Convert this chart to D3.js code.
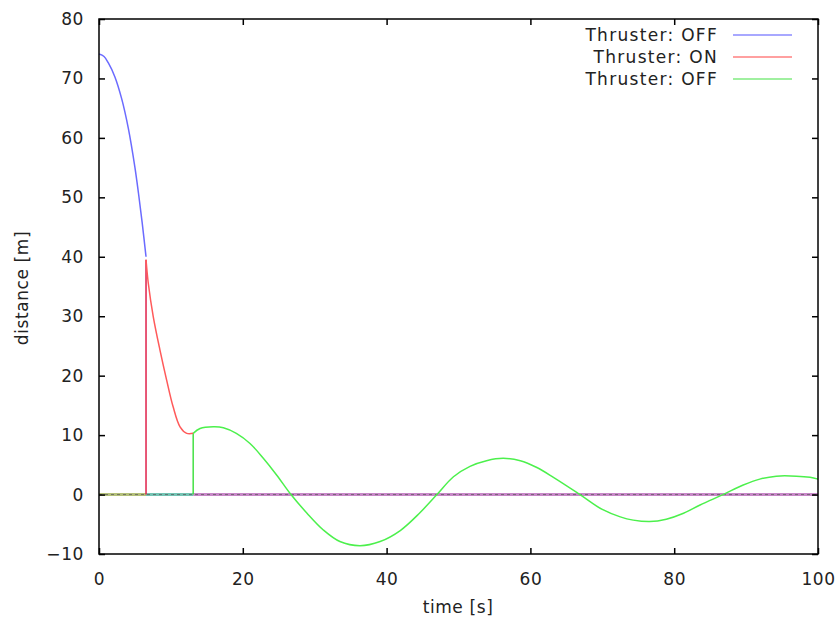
<!DOCTYPE html>
<html><head><meta charset="utf-8">
<script src="https://cdn.jsdelivr.net/npm/d3@7"></script>
<style>body{margin:0;background:#fff}svg{display:block}text{font-family:"DejaVu Sans",sans-serif}</style>
</head><body><svg id="c" width="837" height="621"></svg>
<script>
// ---- data ----
const xTicks = [0, 20, 40, 60, 80, 100];
const yTicks = [-10, 0, 10, 20, 30, 40, 50, 60, 70, 80];
const legendLabels = ["Thruster: OFF", "Thruster: ON", "Thruster: OFF"];
const seriesColors = ["#6b6bff", "#ff5a5a", "#4cf04c"];
const legendColors = ["#a8a8ff", "#ffa0a0", "#a0f0a0"];

const offT1 = [0, 0.7, 1.3, 2.2, 3.15, 4.08, 5.0, 5.5, 6.0, 6.54];
const offD1 = [74.1, 73.7, 72.6, 70.3, 66.6, 61.6, 55.0, 50.6, 45.8, 40.0];

const onT = [6.54, 6.86, 7.55, 8.48, 9.4, 10.3, 11.27, 12.2, 13.1];
const onD = [39.5, 35.5, 29.9, 24.3, 19.3, 14.8, 11.4, 10.3, 10.3];

const offT2 = [13.1, 14.05, 15.9, 17.3, 19.1, 21.0, 22.85, 24.7, 26.7, 28.9, 31.2, 33.5, 36.3, 39.1, 41.9, 44.6, 47.0, 49.3, 51.6, 53.9, 56.2, 58.6, 60.9, 63.2, 66.9, 70.0, 72.5, 74.3, 76.6, 78.9, 81.3, 83.6, 86.8, 89.6, 91.9, 94.2, 97.0, 98.9, 100];
const offD2 = [10.3, 11.1, 11.4, 11.25, 10.3, 8.6, 6.1, 3.3, 0, -3.1, -5.96, -7.9, -8.6, -7.9, -6.05, -3.1, 0, 3.0, 4.75, 5.7, 6.1, 5.7, 4.55, 2.9, 0, -2.5, -3.75, -4.3, -4.55, -4.15, -3.15, -1.75, 0, 1.6, 2.6, 3.1, 3.1, 2.9, 2.6];

// switch-over drops to zero
const dropT = [6.54, 13.1];
const dropTop = [39.5, 10.3];
const dropColors = ["#e0204a", "#44e044"];

// zero baseline segments
const zeroStart = [0, 6.54, 13.1];
const zeroEnd = [6.54, 13.1, 100];
const zeroColors = ["#b4c07a", "#74c4b4", "#c888c8"];

// ---- chart ----
const svg = d3.select("#c");
const L = 99, R = 818, T = 19, B = 554;
const x = d3.scaleLinear().domain([0, 100]).range([L, R]);
const y = d3.scaleLinear().domain([-10, 80]).range([B, T]);
const FONT = '"DejaVu Sans",sans-serif';
const fs = "17px", ls = "0.6px";

// zero baseline
zeroStart.forEach((s, i) => {
  svg.append("line").attr("x1", x(s)).attr("x2", x(zeroEnd[i]))
    .attr("y1", y(0)).attr("y2", y(0))
    .attr("stroke", zeroColors[i]).attr("stroke-width", 3);
});
svg.append("line").attr("x1", x(0)).attr("x2", x(100)).attr("y1", y(0)).attr("y2", y(0))
  .attr("stroke", "#555").attr("stroke-width", 1).attr("stroke-dasharray", "3,3").attr("opacity", 0.7);

// drops
dropT.forEach((t, i) => {
  svg.append("line").attr("x1", x(t)).attr("x2", x(t)).attr("y1", y(dropTop[i])).attr("y2", y(0))
    .attr("stroke", dropColors[i]).attr("stroke-width", 1.5);
});

const line = d3.line().x(d => x(d[0])).y(d => y(d[1])).curve(d3.curveCatmullRom);
const series = [[offT1, offD1], [onT, onD], [offT2, offD2]];
series.forEach((s, i) => {
  svg.append("path").datum(s[0].map((t, j) => [t, s[1][j]]))
    .attr("d", line).attr("fill", "none").attr("stroke", seriesColors[i]).attr("stroke-width", 1.5);
});

// axes (ticks inward, mirrored)
const gL = svg.append("g").attr("transform", `translate(${L},0)`)
  .call(d3.axisLeft(y).tickValues(yTicks).tickSize(-6).tickSizeOuter(0).tickPadding(15));
const gB = svg.append("g").attr("transform", `translate(0,${B})`)
  .call(d3.axisBottom(x).tickValues(xTicks).tickSize(-6).tickSizeOuter(0).tickPadding(19));
const gR = svg.append("g").attr("transform", `translate(${R},0)`)
  .call(d3.axisRight(y).tickValues(yTicks).tickSize(-6).tickSizeOuter(0).tickFormat(""));
const gT = svg.append("g").attr("transform", `translate(0,${T})`)
  .call(d3.axisTop(x).tickValues(xTicks).tickSize(-6).tickSizeOuter(0).tickFormat(""));
[gL, gB, gR, gT].forEach(g => {
  g.select(".domain").remove();
  g.selectAll(".tick line").attr("stroke", "#000").attr("stroke-width", 1.5);
  g.selectAll(".tick text").attr("fill", "#222").style("font-size", fs).style("font-family", FONT).style("letter-spacing", ls);
});
svg.append("rect").attr("x", L).attr("y", T).attr("width", R - L).attr("height", B - T)
  .attr("fill", "none").attr("stroke", "#000").attr("stroke-width", 1.5);

// titles
svg.append("text").attr("x", 458).attr("y", 613).attr("text-anchor", "middle")
  .style("font-size", fs).style("letter-spacing", ls).attr("fill", "#222").text("time [s]");
svg.append("text").attr("transform", "translate(28,288) rotate(-90)").attr("text-anchor", "middle")
  .style("font-size", fs).style("letter-spacing", ls).attr("fill", "#222").text("distance [m]");

// legend
legendLabels.forEach((lab, i) => {
  const yy = 35 + i * 22;
  svg.append("text").attr("x", 718).attr("y", yy).attr("dy", "0.35em").attr("text-anchor", "end")
    .style("font-size", fs).style("letter-spacing", "1.3px").attr("fill", "#222").text(lab);
  svg.append("line").attr("x1", 733).attr("x2", 792).attr("y1", yy).attr("y2", yy)
    .attr("stroke", legendColors[i]).attr("stroke-width", 2);
});
</script></body></html>
